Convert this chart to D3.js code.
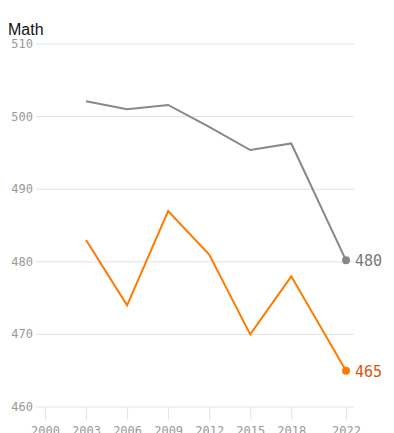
<!DOCTYPE html>
<html>
<head>
<meta charset="utf-8">
<script src="https://cdn.jsdelivr.net/npm/d3@7"></script>
<style>
  body { margin: 0; background: #fff; }
  svg { display: block; }
</style>
</head>
<body>
<div id="chart"></div>
<script>
// data
var years = [2003, 2006, 2009, 2012, 2015, 2018, 2022];
var oecd = [502.1, 501.0, 501.6, 498.6, 495.4, 496.3, 480.2];
var us = [483, 474, 487, 481, 470, 478, 465];
var xTicks = [2000, 2003, 2006, 2009, 2012, 2015, 2018, 2022];
var yTicks = [460, 470, 480, 490, 500, 510];
var endLabels = ["480", "465"];

var svgWidth = 394, svgHeight = 433;

var svg = d3.select("#chart").append("svg")
  .attr("width", svgWidth)
  .attr("height", svgHeight);

var xScale = d3.scaleLinear().domain([2000, 2022]).range([45, 346]);
var yScale = d3.scaleLinear().domain([460, 510]).range([407, 44]);

var mono = "'DejaVu Sans Mono', monospace";

// gridlines
svg.selectAll(".grid")
  .data(yTicks)
  .enter()
  .append("line")
  .attr("x1", 36)
  .attr("x2", 354)
  .attr("y1", d => yScale(d))
  .attr("y2", d => yScale(d))
  .attr("stroke", "#e3e3e3")
  .attr("stroke-width", 1);

// y labels
svg.selectAll(".ylab")
  .data(yTicks)
  .enter()
  .append("text")
  .attr("x", 33)
  .attr("y", d => yScale(d) + 4)
  .attr("text-anchor", "end")
  .attr("font-family", mono)
  .attr("font-size", 12)
  .attr("fill", "#999")
  .text(d => d);

// x axis
var xAxis = d3.axisBottom(xScale)
  .tickValues(xTicks)
  .tickFormat(d3.format("d"))
  .tickSize(13)
  .tickPadding(6);

var gx = svg.append("g")
  .attr("transform", "translate(0," + yScale(460) + ")")
  .call(xAxis);
gx.select(".domain").remove();
gx.selectAll("line").attr("stroke", "#e3e3e3");
gx.selectAll("text")
  .attr("font-family", mono)
  .attr("font-size", 12)
  .attr("fill", "#999");

// lines
var line = d3.line()
  .x((d, i) => xScale(years[i]))
  .y(d => yScale(d));

var series = [
  { values: oecd, color: "#888888", text: "#777777" },
  { values: us, color: "#ff7b00", text: "#d9560a" }
];

series.forEach(function(s, k) {
  svg.append("path")
    .datum(s.values)
    .attr("d", line)
    .attr("fill", "none")
    .attr("stroke", s.color)
    .attr("stroke-width", 2);

  var last = s.values.length - 1;
  svg.append("circle")
    .attr("cx", xScale(years[last]))
    .attr("cy", yScale(s.values[last]))
    .attr("r", 4)
    .attr("fill", s.color);

  svg.append("text")
    .attr("x", xScale(years[last]) + 9)
    .attr("y", yScale(s.values[last]) + 6)
    .attr("font-family", mono)
    .attr("font-size", 15)
    .attr("fill", s.text)
    .text(endLabels[k]);
});

// title
svg.append("text")
  .attr("x", 8)
  .attr("y", 35)
  .attr("font-family", "'Liberation Sans', Arial, sans-serif")
  .attr("font-size", 16)
  .attr("fill", "#111")
  .text("Math");
</script>
</body>
</html>
